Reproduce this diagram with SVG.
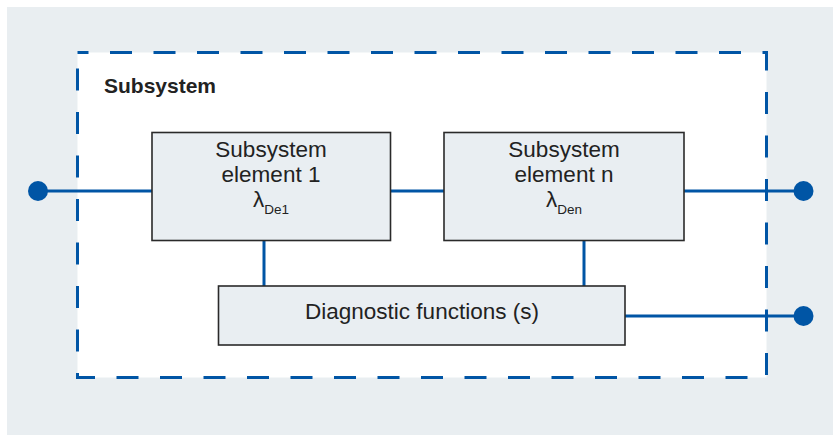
<svg xmlns="http://www.w3.org/2000/svg" width="833" height="435" viewBox="0 0 833 435">
<style>
.box{fill:#e9eef2;stroke:#2a2a2a;stroke-width:1.6}
.wire{stroke:#0055a5;stroke-width:3;fill:none}
.dot{fill:#0055a5}
.t{font-family:"Liberation Sans",Arial,sans-serif;font-size:22.5px;fill:#222;text-anchor:middle}
.sub{font-size:13.5px}
</style>
<rect x="7" y="7" width="826" height="428" fill="#e9eef1"/>
<g id="subsystem">
<rect x="77.5" y="52.5" width="689" height="325" fill="#ffffff" stroke="#0055a5" stroke-width="3" stroke-dasharray="22 21.5" stroke-dashoffset="11"/>
<text x="104" y="93" font-family="Liberation Sans,Arial,sans-serif" font-size="21" font-weight="bold" fill="#222">Subsystem</text>
</g>
<g id="connectors">
<line class="wire" x1="38" y1="191" x2="152" y2="191"/>
<line class="wire" x1="390" y1="191" x2="444" y2="191"/>
<line class="wire" x1="684" y1="191" x2="803" y2="191"/>
<line class="wire" x1="625" y1="316" x2="803" y2="316"/>
<line class="wire" x1="264" y1="240" x2="264" y2="286"/>
<line class="wire" x1="584" y1="240" x2="584" y2="286"/>
<circle class="dot" cx="38" cy="191" r="10"/>
<circle class="dot" cx="803.5" cy="191" r="10"/>
<circle class="dot" cx="803.5" cy="316" r="10"/>
</g>
<g id="element1">
<rect class="box" x="152" y="132.5" width="238.5" height="108"/>
<text class="t" x="271" y="157">Subsystem</text>
<text class="t" x="271" y="182">element 1</text>
<text class="t" x="271" y="207">λ<tspan class="sub" dy="7">De1</tspan></text>
</g>
<g id="elementn">
<rect class="box" x="444" y="132.5" width="240" height="108"/>
<text class="t" x="564" y="157">Subsystem</text>
<text class="t" x="564" y="182">element n</text>
<text class="t" x="564" y="207">λ<tspan class="sub" dy="7">Den</tspan></text>
</g>
<g id="diagnostic">
<rect class="box" x="218.5" y="286" width="406.5" height="59"/>
<text class="t" x="422" y="318.5" font-size="23">Diagnostic functions (s)</text>
</g>
</svg>
